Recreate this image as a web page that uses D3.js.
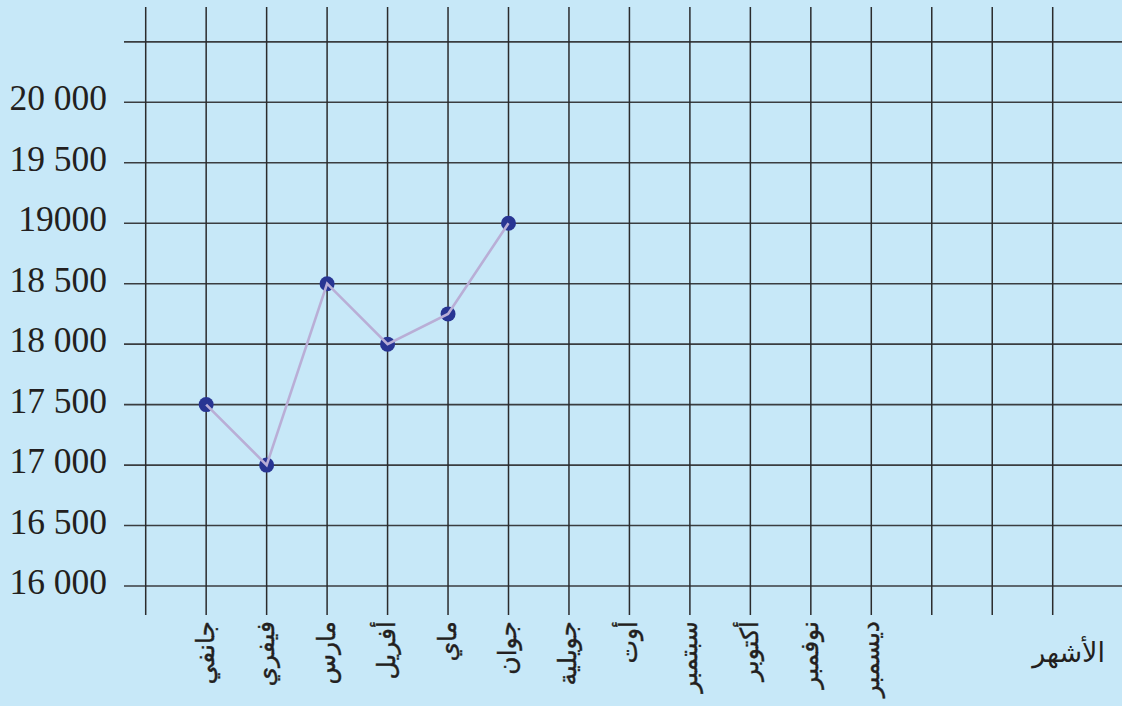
<!DOCTYPE html>
<html>
<head>
<meta charset="utf-8">
<script src="https://cdn.jsdelivr.net/npm/d3@7"></script>
<style>
  html, body { margin: 0; padding: 0; background: #c7e8f8; }
  svg { display: block; }
</style>
</head>
<body>
<svg id="chart" width="1122" height="706"></svg>
<script>
// Monthly values (January to June recorded)
const months = ["جانفي", "فيفري", "مارس", "أفريل", "ماي", "جوان", "جويلية", "أوت", "سبتمبر", "أكتوبر", "نوفمبر", "ديسمبر"];
const values = [17500, 17000, 18500, 18000, 18250, 19000];
const yTicks = [16000, 16500, 17000, 17500, 18000, 18500, 19000, 19500, 20000];
const yTickLabels = ["16 000", "16 500", "17 000", "17 500", "18 000", "18 500", "19000", "19 500", "20 000"];
const axisTitle = "الأشهر";

const svg = d3.select("#chart");
const W = 1122, H = 706;

svg.append("rect").attr("width", W).attr("height", H).attr("fill", "#c7e8f8");

// Grid column index: 0 is the left border column, months occupy 1..12, 15 columns total
const x = d3.scaleLinear().domain([0, 15]).range([145.7, 1052.7]);
const y = d3.scaleLinear().domain([16000, 20000]).range([586, 102.3]);

const gridTop = 7, gridBottom = 615, gridLeft = 124, gridRight = W;

// horizontal grid lines (including one unlabelled line above the top tick)
const hLines = yTicks.concat([20500]);
svg.append("g").selectAll("line").data(hLines).join("line")
  .attr("x1", gridLeft).attr("x2", gridRight)
  .attr("y1", d => y(d)).attr("y2", d => y(d))
  .attr("stroke", "#3a3d40").attr("stroke-width", 1.6);

// vertical grid lines
svg.append("g").selectAll("line").data(d3.range(16)).join("line")
  .attr("x1", d => x(d)).attr("x2", d => x(d))
  .attr("y1", gridTop).attr("y2", gridBottom)
  .attr("stroke", "#2a2b2d").attr("stroke-width", 1.5);

// y tick labels
svg.append("g").selectAll("text").data(yTicks).join("text")
  .attr("x", 107).attr("y", d => y(d) + 8)
  .attr("text-anchor", "end")
  .attr("font-family", "'Liberation Serif', 'Times New Roman', serif")
  .attr("font-size", 35.5)
  .attr("fill", "#231f20")
  .text((d, i) => yTickLabels[i]);

// month labels, rotated
svg.append("g").selectAll("text").data(months).join("text")
  .attr("transform", (d, i) => `translate(${x(i + 1)},621) rotate(-90)`)
  .attr("text-anchor", "end")
  .attr("dy", "0.3em")
  .attr("font-family", "'DejaVu Sans', sans-serif")
  .attr("font-size", 25)
  .attr("fill", "#231f20")
  .attr("stroke", "#231f20")
  .attr("stroke-width", 0.4)
  .text(d => d);

// axis title
svg.append("text")
  .attr("x", 1105).attr("y", 662)
  .attr("text-anchor", "end")
  .attr("font-family", "'DejaVu Sans', sans-serif")
  .attr("font-size", 27)
  .attr("fill", "#231f20")
  .text(axisTitle);

const line = d3.line().x((d, i) => x(i + 1)).y(d => y(d));

// data points
svg.append("g").selectAll("circle").data(values).join("circle")
  .attr("cx", (d, i) => x(i + 1))
  .attr("cy", d => y(d))
  .attr("r", 7.5)
  .attr("fill", "#283593");

// data line, drawn over the points
svg.append("path").datum(values)
  .attr("d", line)
  .attr("fill", "none")
  .attr("stroke", "#b9aed6")
  .attr("stroke-width", 2.6)
  .attr("stroke-linejoin", "miter");
</script>
</body>
</html>
